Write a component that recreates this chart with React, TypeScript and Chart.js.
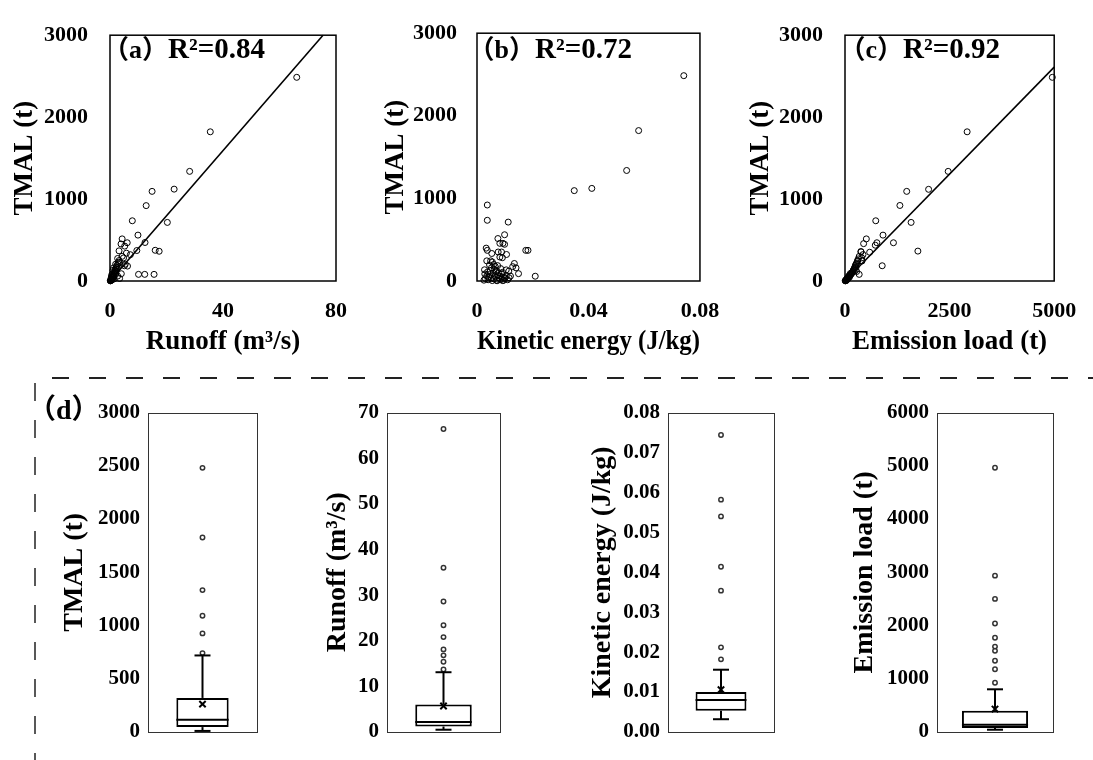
import React, { useEffect, useRef } from 'react';
import { Chart, registerables } from 'chart.js';

Chart.register(...registerables);

const SERIF = "'Liberation Serif', 'Times New Roman', 'Noto Sans CJK SC', serif";

// ---------------- data: scatter panels ----------------
// (a) Runoff (m3/s) vs TMAL (t)
const runoffVsTmal: number[][] = [
  [66.1, 2486], [35.5, 1821], [28.2, 1338], [22.7, 1121], [14.9, 1094], [12.8, 920], [7.9, 735], [20.3, 715],
  [9.9, 560], [12.4, 470], [16.0, 375], [17.4, 363], [9.5, 372], [10.1, 81], [12.3, 81], [15.6, 81],
  [4.3, 514], [6.1, 467], [3.9, 452], [5.2, 426], [3.2, 368], [5.8, 340], [4.3, 301], [2.7, 275],
  [5.1, 186], [6.2, 182], [3.4, 224], [2.0, 205], [4.0, 89], [3.4, 31], [7.2, 321], [4.8, 282], [5.4, 205],
  [0.2, 5], [0.3, 10], [0.4, 15], [0.5, 20], [0.6, 30], [0.7, 25], [0.8, 40], [0.9, 50], [1.0, 35],
  [1.1, 60], [1.2, 70], [1.3, 55], [1.4, 90], [1.5, 80], [1.6, 110], [1.7, 100], [1.8, 130], [1.9, 120],
  [2.0, 150], [2.1, 95], [2.2, 170], [2.3, 140], [2.5, 190], [2.6, 160], [2.8, 210], [3.0, 230], [0.1, 2],
  [0.15, 8], [0.25, 3], [0.35, 12], [0.45, 45], [0.55, 65], [0.65, 15], [0.75, 85], [0.85, 20], [1.05, 130],
  [1.25, 160], [1.45, 25], [3.2, 250], [2.7, 60],
];
const fitRunoff: number[][] = [[0, 0], [75.4, 3000]];

// (b) Kinetic energy (J/kg) vs TMAL (t)
const kineticVsTmal: number[][] = [
  [0.0742, 2486], [0.058, 1821], [0.0537, 1338], [0.0412, 1121], [0.0349, 1094], [0.0037, 920], [0.0037, 735],
  [0.0112, 713], [0.0099, 560], [0.0075, 514], [0.0082, 456], [0.0093, 456], [0.0099, 444], [0.0033, 398],
  [0.0037, 371], [0.0053, 333], [0.0076, 351], [0.0088, 351], [0.0106, 321], [0.0082, 290], [0.0091, 282],
  [0.0175, 371], [0.0183, 371], [0.0035, 244], [0.0049, 244], [0.0134, 212], [0.0128, 174], [0.014, 159],
  [0.0027, 136], [0.0114, 119], [0.0149, 89], [0.0209, 58], [0.0074, 186], [0.0065, 178], [0.0105, 135],
  [0.0025, 10], [0.003, 30], [0.0035, 60], [0.004, 15], [0.0045, 80], [0.005, 40], [0.0055, 5], [0.006, 25],
  [0.0065, 55], [0.007, 10], [0.0075, 70], [0.008, 35], [0.0085, 20], [0.009, 50], [0.0095, 8], [0.01, 30],
  [0.0105, 65], [0.011, 15], [0.0058, 95], [0.0068, 110], [0.0048, 125], [0.0078, 100], [0.0088, 85],
  [0.0062, 140], [0.0052, 160], [0.0072, 3], [0.0042, 45], [0.0082, 60], [0.0092, 5], [0.0098, 45],
  [0.0115, 40], [0.012, 60], [0.0028, 85], [0.0038, 110], [0.006, 200], [0.0055, 230], [0.0085, 150],
  [0.0045, 195], [0.007, 125], [0.0092, 105],
];

// (c) Emission load (t) vs TMAL (t)
const emissionVsTmal: number[][] = [
  [4955, 2486], [2919, 1821], [2466, 1338], [1998, 1119], [1475, 1094], [1312, 922], [735, 735], [1580, 715],
  [908, 560], [510, 514], [445, 456], [762, 467], [724, 437], [1158, 467], [1742, 365], [590, 351], [385, 355],
  [379, 360], [430, 322], [400, 282], [340, 301], [301, 244], [407, 244], [889, 186], [264, 166], [242, 128],
  [339, 81], [278, 116],
  [10, 5], [20, 10], [30, 15], [40, 22], [50, 28], [60, 30], [70, 40], [80, 45], [90, 50], [100, 55],
  [110, 65], [120, 70], [130, 75], [140, 80], [150, 90], [160, 95], [170, 100], [180, 110], [190, 120],
  [200, 130], [210, 140], [220, 150], [230, 160], [240, 175], [250, 190], [260, 200], [270, 210], [280, 220],
  [300, 250], [320, 270], [5, 2], [15, 3], [25, 12], [35, 8], [45, 20], [55, 35], [65, 25], [85, 60],
  [105, 45], [125, 90],
];
const fitEmission: number[][] = [[0, 0], [5000, 2610]];

const panelTags = ['（a）', '（b）', '（c）'];
const r2Values = ['0.84', '0.72', '0.92'];

// scatter tick values / labels
const scatterYTicks = [0, 1000, 2000, 3000];
const scatterYLabels = ['0', '1000', '2000', '3000'];
const runoffXTicks = [0, 40, 80];
const runoffXLabels = ['0', '40', '80'];
const kineticXTicks = [0, 0.04, 0.08];
const kineticXLabels = ['0', '0.04', '0.08'];
const emissionXTicks = [0, 2500, 5000];
const emissionXLabels = ['0', '2500', '5000'];

// ---------------- data: box plots (whisker low, Q1, median, Q3, whisker high) ----------------
const tmalStats = [10, 46, 114, 320, 719];
const tmalMean = 262;
const tmalOutliers = [2481, 1827, 1333, 1092, 926, 741];
const tmalTicks = [0, 500, 1000, 1500, 2000, 2500, 3000];
const tmalTickLabels = ['0', '500', '1000', '1500', '2000', '2500', '3000'];

const runoffStats = [0.5, 1.2, 2.2, 6.05, 13.1];
const runoffMean = 5.7;
const runoffOutliers = [66.4, 36.0, 28.6, 23.4, 20.8, 18.1, 16.8, 15.4, 13.7];
const runoffTicks = [0, 10, 20, 30, 40, 50, 60, 70];
const runoffTickLabels = ['0', '10', '20', '30', '40', '50', '60', '70'];

const kineticStats = [0.0032, 0.0053, 0.008, 0.01, 0.0156];
const kineticMean = 0.0106;
const kineticOutliers = [0.0744, 0.0582, 0.054, 0.0414, 0.0354, 0.0212, 0.0182];
const kineticTicks = [0, 0.01, 0.02, 0.03, 0.04, 0.05, 0.06, 0.07, 0.08];
const kineticTickLabels = ['0.00', '0.01', '0.02', '0.03', '0.04', '0.05', '0.06', '0.07', '0.08'];

const emissionStats = [43, 74, 135, 400, 802];
const emissionMean = 431;
const emissionOutliers = [4963, 2937, 2500, 2037, 1770, 1604, 1524, 1339, 1178, 926];
const emissionTicks = [0, 1000, 2000, 3000, 4000, 5000, 6000];
const emissionTickLabels = ['0', '1000', '2000', '3000', '4000', '5000', '6000'];

// ---------------- plugins ----------------
const panelPlugin: any = {
  id: 'panelDeco',
  afterDraw(chart: any, _a: any, opts: any) {
    const { ctx, chartArea: a } = chart;
    ctx.save();
    ctx.strokeStyle = '#000';
    ctx.lineWidth = opts.frameWidth || 1.5;
    ctx.strokeRect(a.left, a.top, a.right - a.left, a.bottom - a.top);
    if (opts.tag) {
      ctx.fillStyle = '#000';
      ctx.textBaseline = 'alphabetic';
      ctx.textAlign = 'left';
      ctx.font = `bold ${opts.tagSize}px ${SERIF}`;
      const w = ctx.measureText(opts.tag).width;
      ctx.fillText(opts.tag, a.left + opts.rx - w, opts.baseY);
      ctx.font = `bold ${opts.size}px ${SERIF}`;
      ctx.fillText(opts.rest, a.left + opts.rx, opts.baseY);
    }
    ctx.restore();
  },
};

const boxPlugin: any = {
  id: 'boxExtras',
  afterDatasetsDraw(chart: any, _a: any, opts: any) {
    const { ctx } = chart;
    const ys = chart.scales.y;
    const bar = chart.getDatasetMeta(0).data[0];
    if (!bar) return;
    const cx = bar.x;
    const half = bar.width / 2;
    const [lo, q1, med, q3, hi] = opts.stats;
    const Y = (v: number) => ys.getPixelForValue(v);
    ctx.save();
    ctx.strokeStyle = '#000';
    ctx.lineWidth = 2;
    const seg = (x1: number, y1: number, x2: number, y2: number) => {
      ctx.beginPath(); ctx.moveTo(x1, y1); ctx.lineTo(x2, y2); ctx.stroke();
    };
    seg(cx - half, Y(med), cx + half, Y(med));
    seg(cx, Y(q3), cx, Y(hi));
    seg(cx, Y(q1), cx, Y(lo));
    seg(cx - opts.cap, Y(hi), cx + opts.cap, Y(hi));
    seg(cx - opts.cap, Y(lo), cx + opts.cap, Y(lo));
    ctx.restore();
  },
  afterDraw(chart: any, _a: any, opts: any) {
    const { ctx, chartArea: a } = chart;
    ctx.save();
    ctx.strokeStyle = '#333';
    ctx.lineWidth = 1;
    ctx.strokeRect(Math.round(a.left) + 0.5, Math.round(a.top) + 0.5, Math.round(a.right - a.left), Math.round(a.bottom - a.top));
    if (opts.tag) {
      ctx.fillStyle = '#000';
      ctx.font = `bold 28px ${SERIF}`;
      ctx.textBaseline = 'middle';
      ctx.textAlign = 'left';
      ctx.fillText(opts.tag, opts.tagX, opts.tagY);
    }
    ctx.restore();
  },
};

// ---------------- config builders ----------------
type Rect = { l: number; t: number; w: number; h: number };
type Area = { l: number; r: number; t: number; b: number };

function scatterConfig(o: {
  canvas: Rect; area: Area; pts: number[][]; fit?: number[][];
  xMax: number; xTicks: number[]; xLabels: string[]; xTitle: string;
  tag: string; r2: string; yTitleX: number; xTitleY: number; yGap: number;
}): any {
  const TITLE = 27, TICK = 22;
  const titleHalf = (TITLE * 1.2) / 2;
  const tickHalf = (TICK * 1.2) / 2;
  const yWidth = o.area.l - o.canvas.l;
  const xHeight = o.canvas.t + o.canvas.h - o.area.b;
  const datasets: any[] = [{
    type: 'scatter',
    data: o.pts.map(([x, y]) => ({ x, y })),
    pointRadius: 3, pointHoverRadius: 3, pointBorderWidth: 1,
    pointBorderColor: '#000', pointBackgroundColor: 'rgba(255,255,255,0)',
    clip: false, order: 1,
  }];
  if (o.fit) {
    datasets.push({
      type: 'line', data: o.fit.map(([x, y]) => ({ x, y })),
      borderColor: '#000', borderWidth: 1.6, pointRadius: 0, fill: false, clip: false, order: 0,
    });
  }
  const tickFont = { family: SERIF, size: TICK, weight: 'bold' };
  const titleFont = { family: SERIF, size: TITLE, weight: 'bold' };
  return {
    type: 'scatter',
    data: { datasets },
    options: {
      responsive: false, animation: false, devicePixelRatio: 1, events: [],
      layout: { padding: { top: o.area.t - o.canvas.t, right: o.canvas.l + o.canvas.w - o.area.r, bottom: 0, left: 0 } },
      plugins: {
        legend: { display: false }, tooltip: { enabled: false },
        panelDeco: { tag: o.tag, rest: 'R²=' + o.r2, tagSize: 26, size: 29, rx: 58, baseY: 58 - o.canvas.t, frameWidth: 1.5 },
      },
      scales: {
        x: {
          type: 'linear', min: 0, max: o.xMax,
          grid: { display: false, drawTicks: false }, border: { display: false },
          afterFit: (s: any) => { s.height = xHeight; },
          afterBuildTicks: (s: any) => { s.ticks = o.xTicks.map((v) => ({ value: v })); },
          ticks: { padding: 311 - o.area.b - tickHalf, font: tickFont, color: '#000', maxRotation: 0, autoSkip: false,
            callback: (_v: any, i: number) => o.xLabels[i] },
          title: { display: true, text: o.xTitle, font: titleFont, color: '#000',
            padding: { top: 0, bottom: o.canvas.t + o.canvas.h - o.xTitleY - titleHalf } },
        },
        y: {
          type: 'linear', min: 0, max: 3000,
          grid: { display: false, drawTicks: false }, border: { display: false },
          afterFit: (s: any) => { s.width = yWidth; },
          afterBuildTicks: (s: any) => { s.ticks = scatterYTicks.map((v) => ({ value: v })); },
          ticks: { padding: o.yGap, font: tickFont, color: '#000', autoSkip: false,
            callback: (_v: any, i: number) => scatterYLabels[i] },
          title: { display: true, text: 'TMAL (t)', font: titleFont, color: '#000',
            padding: { top: o.yTitleX - o.canvas.l - titleHalf, bottom: 0 } },
        },
      },
    },
    plugins: [panelPlugin],
  };
}

function boxConfig(o: {
  canvas: Rect; area: Area; stats: number[]; mean: number; outliers: number[];
  yMax: number; yTicks: number[]; yLabels: string[]; yTitle: string; yTitleX: number;
  barFrac: number; tag?: string;
}): any {
  const TITLE = 28, TICK = 21;
  const titleHalf = (TITLE * 1.2) / 2;
  const cat = 's';
  return {
    type: 'bar',
    data: {
      labels: [cat],
      datasets: [
        {
          type: 'bar', data: [[o.stats[1], o.stats[3]]], backgroundColor: '#fff', borderColor: '#000',
          borderWidth: 2, borderSkipped: false, barPercentage: o.barFrac, categoryPercentage: 1, order: 3,
        },
        {
          type: 'line', showLine: false, data: o.outliers.map((v) => ({ x: cat, y: v })),
          pointRadius: 2.2, pointBorderWidth: 1.5, pointBorderColor: '#333', pointBackgroundColor: '#fff',
          clip: false, order: 2,
        },
        {
          type: 'line', showLine: false, data: [{ x: cat, y: o.mean }],
          pointStyle: 'crossRot', pointRadius: 4.5, pointBorderWidth: 2, pointBorderColor: '#000', clip: false, order: 1,
        },
      ],
    },
    options: {
      responsive: false, animation: false, devicePixelRatio: 1, events: [],
      layout: { padding: { top: o.area.t - o.canvas.t, right: o.canvas.l + o.canvas.w - o.area.r, bottom: o.canvas.t + o.canvas.h - o.area.b, left: 0 } },
      plugins: {
        legend: { display: false }, tooltip: { enabled: false },
        boxExtras: { stats: o.stats, cap: 8, tag: o.tag, tagX: 28 - o.canvas.l, tagY: 412 - o.canvas.t },
      },
      scales: {
        x: { type: 'category', display: false },
        y: {
          type: 'linear', min: 0, max: o.yMax,
          grid: { display: false, drawTicks: false }, border: { display: false },
          afterFit: (s: any) => { s.width = o.area.l - o.canvas.l; },
          afterBuildTicks: (s: any) => { s.ticks = o.yTicks.map((v) => ({ value: v })); },
          ticks: { padding: 8, font: { family: SERIF, size: TICK, weight: 'bold' }, color: '#000', autoSkip: false,
            callback: (_v: any, i: number) => o.yLabels[i] },
          title: { display: true, text: o.yTitle, font: { family: SERIF, size: TITLE, weight: 'bold' }, color: '#000',
            padding: { top: o.yTitleX - o.canvas.l - titleHalf, bottom: 0 } },
        },
      },
    },
    plugins: [boxPlugin],
  };
}

function ChartBox({ rect, config }: { rect: Rect; config: any }) {
  const ref = useRef<HTMLCanvasElement | null>(null);
  useEffect(() => {
    const ch = new Chart(ref.current as HTMLCanvasElement, config);
    return () => ch.destroy();
  }, []);
  return (
    <div style={{ position: 'absolute', left: rect.l, top: rect.t, width: rect.w, height: rect.h }}>
      <canvas ref={ref} width={rect.w} height={rect.h} style={{ width: rect.w, height: rect.h, display: 'block' }} />
    </div>
  );
}

const BOX_T = 392, BOX_H = 368, AREA_T = 408, AREA_B = 732;

const rectA = { l: 0, t: 0, w: 368, h: 372 };
const rectB = { l: 368, t: 0, w: 368, h: 372 };
const rectC = { l: 736, t: 0, w: 357, h: 372 };
const rectD1 = { l: 20, t: BOX_T, w: 247, h: BOX_H };
const rectD2 = { l: 300, t: BOX_T, w: 210, h: BOX_H };
const rectD3 = { l: 570, t: BOX_T, w: 214, h: BOX_H };
const rectD4 = { l: 830, t: BOX_T, w: 233, h: BOX_H };

export default function App() {
  const cfgA = scatterConfig({ canvas: rectA, area: { l: 110, r: 336, t: 22, b: 281 }, pts: runoffVsTmal, fit: fitRunoff,
    xMax: 80, xTicks: runoffXTicks, xLabels: runoffXLabels, xTitle: 'Runoff (m³/s)', tag: panelTags[0], r2: r2Values[0],
    yTitleX: 25, xTitleY: 342, yGap: 22 });
  const cfgB = scatterConfig({ canvas: rectB, area: { l: 477, r: 705, t: 22, b: 281 }, pts: kineticVsTmal,
    xMax: 0.08, xTicks: kineticXTicks, xLabels: kineticXLabels, xTitle: 'Kinetic energy (J/kg)', tag: panelTags[1], r2: r2Values[1],
    yTitleX: 396, xTitleY: 342, yGap: 20 });
  const cfgC = scatterConfig({ canvas: rectC, area: { l: 845, r: 1066, t: 22, b: 281 }, pts: emissionVsTmal, fit: fitEmission,
    xMax: 5000, xTicks: emissionXTicks, xLabels: emissionXLabels, xTitle: 'Emission load (t)', tag: panelTags[2], r2: r2Values[2],
    yTitleX: 761, xTitleY: 342, yGap: 22 });

  const cfgD1 = boxConfig({ canvas: rectD1, area: { l: 148, r: 257, t: AREA_T, b: AREA_B }, stats: tmalStats, mean: tmalMean,
    outliers: tmalOutliers, yMax: 3000, yTicks: tmalTicks, yLabels: tmalTickLabels, yTitle: 'TMAL (t)', yTitleX: 75, barFrac: 0.48, tag: '（d）' });
  const cfgD2 = boxConfig({ canvas: rectD2, area: { l: 387, r: 500, t: AREA_T, b: AREA_B }, stats: runoffStats, mean: runoffMean,
    outliers: runoffOutliers, yMax: 70, yTicks: runoffTicks, yLabels: runoffTickLabels, yTitle: 'Runoff (m³/s)', yTitleX: 338, barFrac: 0.5 });
  const cfgD3 = boxConfig({ canvas: rectD3, area: { l: 668, r: 774, t: AREA_T, b: AREA_B }, stats: kineticStats, mean: kineticMean,
    outliers: kineticOutliers, yMax: 0.08, yTicks: kineticTicks, yLabels: kineticTickLabels, yTitle: 'Kinetic energy (J/kg)', yTitleX: 603, barFrac: 0.48 });
  const cfgD4 = boxConfig({ canvas: rectD4, area: { l: 937, r: 1053, t: AREA_T, b: AREA_B }, stats: emissionStats, mean: emissionMean,
    outliers: emissionOutliers, yMax: 6000, yTicks: emissionTicks, yLabels: emissionTickLabels, yTitle: 'Emission load (t)', yTitleX: 865, barFrac: 0.57 });

  return (
    <div style={{ position: 'absolute', left: 0, top: 0, width: 1093, height: 760, background: '#fff', overflow: 'hidden' }}>
      <svg width={1093} height={760} style={{ position: 'absolute', left: 0, top: 0 }}>
        <line x1={52} y1={378} x2={1093} y2={378} stroke="#222" strokeWidth={2} strokeDasharray="17 20" />
        <line x1={35} y1={383} x2={35} y2={760} stroke="#222" strokeWidth={1.5} strokeDasharray="18 19" />
      </svg>
      <ChartBox rect={rectA} config={cfgA} />
      <ChartBox rect={rectB} config={cfgB} />
      <ChartBox rect={rectC} config={cfgC} />
      <ChartBox rect={rectD1} config={cfgD1} />
      <ChartBox rect={rectD2} config={cfgD2} />
      <ChartBox rect={rectD3} config={cfgD3} />
      <ChartBox rect={rectD4} config={cfgD4} />
    </div>
  );
}
